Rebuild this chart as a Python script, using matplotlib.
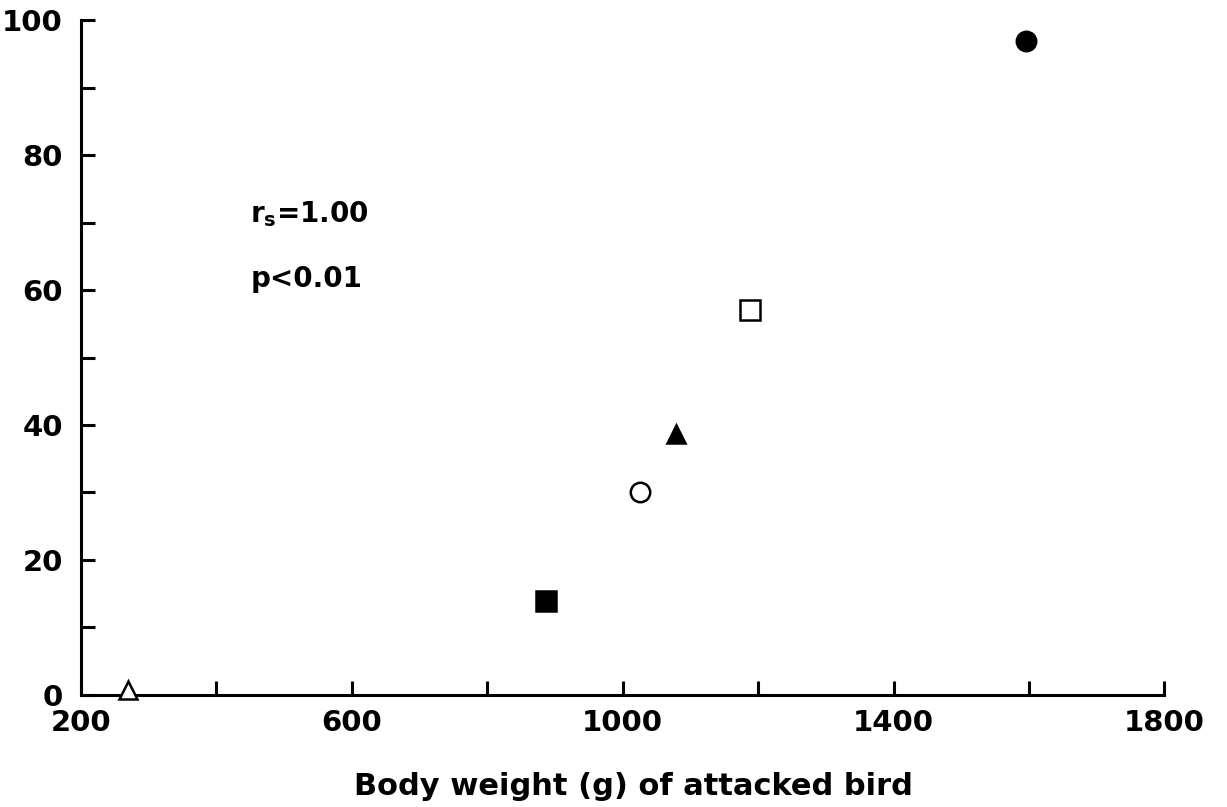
import numpy as np
from matplotlib import pyplot as plt

plt.rcParams['font.family'] = ['DejaVu Sans']
plt.rcParams['font.weight'] = 'bold'

# body weight (g) and percentage, one point per species
weight = [270, 887, 1025, 1078, 1188, 1596]
percent = [0.7, 13.9, 30.1, 38.7, 57.0, 96.9]
markers = ['^', 's', 'o', '^', 's', 'o']
filled = [False, True, False, True, False, True]

xticks = [200, 600, 1000, 1400, 1800]
xminor = [400, 800, 1200, 1600]
yticks = [0, 20, 40, 60, 80, 100]
yminor = [10, 30, 50, 70, 90]

fig = plt.figure(figsize=(12.27, 8.07), dpi=100)
ax = fig.add_axes([0.066, 0.139, 0.883, 0.836])

for x, y, m, f in zip(weight, percent, markers, filled):
    ax.plot(x, y, marker=m, ms=14 if m != '^' else 13, mew=1.8,
            mec='black', mfc='black' if f else 'white', ls='none',
            clip_on=False, zorder=3)

ax.set_xlim(200, 1800)
ax.set_ylim(0, 100)
ax.spines['top'].set_visible(False)
ax.spines['right'].set_visible(False)
ax.spines['left'].set_linewidth(2.2)
ax.spines['bottom'].set_linewidth(2.2)

ax.set_xticks(xticks)
ax.set_xticks(xminor, minor=True)
ax.set_yticks(yticks)
ax.set_yticks(yminor, minor=True)
ax.tick_params(which='both', direction='in', length=10, width=2.2,
               labelsize=21)
ax.tick_params(axis='y', which='both', pad=13)
ax.tick_params(axis='x', which='both', pad=10)

ax.set_xlabel('Body weight (g) of attacked bird', fontsize=22,
              fontweight='bold')
ax.xaxis.set_label_coords(0.51, -0.115)

ax.text(450, 71.2, r'r$_\mathregular{s}$=1.00', fontsize=20,
        fontweight='bold', va='center')
ax.text(450, 61.6, 'p<0.01', fontsize=20, fontweight='bold', va='center')

fig.savefig('out.png', dpi=100)
